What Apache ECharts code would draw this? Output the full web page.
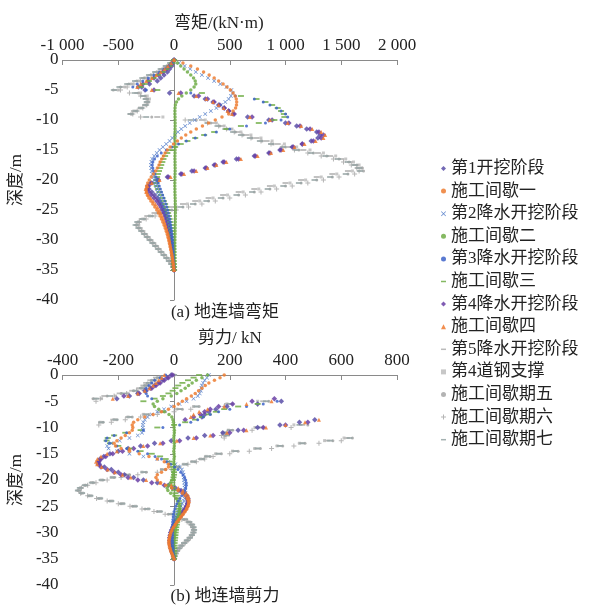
<!DOCTYPE html>
<html>
<head>
<meta charset="utf-8">
<script src="https://cdn.jsdelivr.net/npm/echarts@6/dist/echarts.min.js"></script>
<style>
  html, body { margin: 0; background: #fff; }
  #chart { width: 594px; height: 607px; }
</style>
</head>
<body>
<div id="chart"></div>
<script>
// depth of every sample, m (0.5 m spacing)
const depth = [
  0, -0.5, -1, -1.5, -2, -2.5, -3, -3.5, -4, -4.5,
  -5, -5.5, -6, -6.5, -7, -7.5, -8, -8.5, -9, -9.5,
  -10, -10.5, -11, -11.5, -12, -12.5, -13, -13.5, -14, -14.5,
  -15, -15.5, -16, -16.5, -17, -17.5, -18, -18.5, -19, -19.5,
  -20, -20.5, -21, -21.5, -22, -22.5, -23, -23.5, -24, -24.5,
  -25, -25.5, -26, -26.5, -27, -27.5, -28, -28.5, -29, -29.5,
  -30, -30.5, -31, -31.5, -32, -32.5, -33, -33.5, -34, -34.5, -35
];

const stageNames = [
  '第1开挖阶段', '施工间歇一', '第2降水开挖阶段', '施工间歇二', '第3降水开挖阶段',
  '施工间歇三', '第4降水开挖阶段', '施工间歇四', '第5降水开挖阶段', '第4道钢支撑',
  '施工间歇期五', '施工间歇期六', '施工间歇期七'
];

const momentTicks = [-1000, -500, 0, 500, 1000, 1500, 2000];
const momentTickLabels = ['-1 000', '-500', '0', '500', '1 000', '1 500', '2 000'];
const shearTicks = [-400, -200, 0, 200, 400, 600, 800];
const shearTickLabels = ['-400', '-200', '0', '200', '400', '600', '800'];

// bending moment, kN·m
const m1 = [
  0, -10, -20, -40, -60, -90, -120, -150, -220, -290,
  -260, -40, 180, 280, 350, 400, 450, 490, 530, 660,
  850, 1000, 1100, 1190, 1280, 1310, 1290, 1230, 1150, 1060,
  950, 850, 720, 560, 440, 360, 280, 160, 60, -60,
  -150, -210, -235, -225, -200, -175, -150, -130, -112, -98,
  -86, -76, -68, -60, -53, -47, -42, -37, -33, -29,
  -26, -22, -19, -16, -13, -10, -8, -6, -4, -2, 0
];
const m2 = [
  0, 80, 150, 210, 265, 315, 360, 400, 440, 475,
  505, 530, 548, 558, 562, 560, 552, 530, 490, 430,
  370, 310, 255, 200, 150, 105, 65, 30, -5, -35,
  -60, -80, -95, -110, -125, -135, -150, -165, -185, -205,
  -222, -236, -246, -250, -248, -240, -226, -208, -190, -172,
  -155, -140, -126, -113, -101, -90, -80, -71, -62, -55,
  -48, -42, -36, -30, -24, -19, -14, -10, -6, -3, 0
];
const m3 = [
  0, 45, 95, 145, 195, 250, 305, 360, 415, 470,
  515, 525, 510, 490, 460, 420, 380, 330, 280, 230,
  185, 140, 100, 65, 35, 10, -15, -40, -70, -100,
  -130, -155, -178, -195, -203, -207, -205, -200, -193, -185,
  -177, -168, -160, -152, -144, -136, -128, -118, -108, -98,
  -88, -78, -68, -58, -50, -43, -37, -32, -28, -24,
  -21, -18, -15, -13, -11, -9, -7, -5, -3, -1, 0
];
const m4 = [
  0, 30, 60, 90, 120, 150, 175, 190, 195, 180,
  150, 110, 70, 40, 22, 12, 9, 8, 8, 9,
  9, 10, 10, 9, 9, 8, 8, 9, 10, 10,
  9, 9, 8, 8, 9, 9, 10, 10, 9, 8,
  8, 7, 7, 8, 8, 9, 10, 11, 11, 12,
  12, 12, 12, 11, 11, 10, 10, 9, 9, 8,
  8, 7, 7, 6, 6, 5, 4, 3, 2, 1, 0
];
const m5 = [
  0, -20, -50, -90, -130, -180, -230, -280, -330, -370,
  -250, 150, 550, 720, 800, 860, 920, 960, 1000, 1020,
  960, 820, 650, 500, 380, 280, 190, 110, 40, -20,
  -70, -115, -150, -175, -190, -195, -190, -182, -172, -162,
  -152, -142, -132, -122, -112, -102, -92, -82, -73, -65,
  -57, -50, -44, -38, -33, -29, -25, -22, -19, -16,
  -14, -12, -10, -8, -6, -5, -4, -3, -2, -1, 0
];
const m6 = [
  0, -15, -40, -70, -105, -145, -185, -225, -265, -300,
  -150, 250, 600, 740, 820, 880, 930, 960, 985, 990,
  900, 760, 600, 470, 360, 270, 190, 120, 60, 10,
  -30, -60, -80, -95, -105, -115, -125, -135, -145, -152,
  -158, -160, -155, -145, -132, -118, -104, -92, -80, -70,
  -61, -53, -46, -40, -34, -29, -25, -21, -18, -15,
  -12, -10, -8, -6, -5, -4, -3, -2, -1, 0, 0
];
const m7 = [
  0, -15, -40, -70, -100, -140, -180, -230, -280, -320,
  -180, 60, 220, 300, 360, 410, 450, 490, 540, 700,
  880, 1030, 1130, 1220, 1300, 1340, 1320, 1250, 1150, 1070,
  960, 860, 730, 580, 450, 370, 290, 180, 70, -50,
  -140, -200, -230, -240, -228, -205, -180, -155, -135, -118,
  -103, -90, -80, -70, -62, -55, -49, -43, -38, -33,
  -29, -25, -21, -18, -15, -12, -9, -7, -4, -2, 0
];
const m8 = [
  0, -25, -55, -85, -120, -160, -200, -250, -300, -330,
  -200, 40, 200, 290, 350, 400, 445, 480, 520, 680,
  860, 1020, 1140, 1240, 1320, 1355, 1340, 1270, 1170, 1080,
  980, 870, 750, 600, 470, 380, 300, 200, 90, -30,
  -130, -200, -240, -255, -250, -232, -210, -188, -168, -150,
  -134, -120, -108, -97, -87, -78, -70, -62, -55, -49,
  -43, -38, -33, -28, -23, -19, -15, -11, -7, -3, 0
];
const m9 = [
  0, -30, -70, -110, -160, -210, -270, -330, -400, -470,
  -530, -330, -270, -250, -240, -260, -300, -360, -390, -150,
  250, 360, 430, 500, 570, 650, 740, 830, 930, 1040,
  1160, 1290, 1400, 1500, 1580, 1630, 1650, 1560, 1420, 1280,
  1140, 1000, 860, 720, 580, 440, 310, 190, 80, -20,
  -100, -175, -240, -290, -320, -330, -308, -284, -260, -236,
  -211, -186, -161, -137, -113, -89, -65, -43, -23, -8, 0
];
const m10 = [
  0, -25, -60, -100, -150, -200, -255, -315, -380, -440,
  -500, -300, -240, -220, -230, -260, -310, -360, -380, -100,
  280, 380, 450, 520, 600, 690, 780, 880, 990, 1100,
  1220, 1340, 1450, 1540, 1610, 1660, 1680, 1600, 1460, 1320,
  1180, 1040, 900, 760, 620, 480, 350, 230, 120, 20,
  -70, -150, -220, -280, -320, -335, -312, -288, -263, -238,
  -213, -188, -163, -138, -113, -88, -64, -42, -22, -7, 0
];
const m11 = [
  0, -30, -65, -105, -155, -210, -270, -335, -405, -480,
  -545, -320, -260, -240, -235, -250, -290, -340, -385, -200,
  200, 330, 410, 480, 550, 620, 700, 790, 890, 1000,
  1120, 1250, 1370, 1480, 1570, 1640, 1690, 1700, 1560, 1420,
  1280, 1140, 1000, 860, 720, 580, 440, 310, 190, 80,
  -20, -110, -195, -265, -320, -340, -318, -292, -268, -243,
  -218, -193, -168, -143, -118, -93, -68, -45, -24, -8, 0
];
const m12 = [
  0, -20, -50, -90, -135, -185, -240, -300, -360, -420,
  -480, -400, -300, -250, -235, -245, -280, -330, -370, -300,
  100, 300, 400, 470, 540, 610, 690, 780, 870, 970,
  1080, 1200, 1320, 1430, 1520, 1590, 1640, 1660, 1620, 1480,
  1340, 1200, 1060, 920, 780, 640, 500, 370, 250, 130,
  20, -80, -170, -250, -310, -335, -315, -290, -265, -240,
  -215, -190, -165, -140, -115, -90, -66, -44, -24, -8, 0
];
const m13 = [
  0, -35, -75, -120, -170, -225, -285, -350, -420, -490,
  -540, -350, -280, -255, -245, -255, -295, -345, -390, -250,
  150, 300, 390, 460, 530, 600, 680, 770, 870, 980,
  1100, 1230, 1360, 1470, 1560, 1620, 1660, 1670, 1540, 1400,
  1260, 1120, 980, 840, 700, 560, 420, 290, 170, 60,
  -40, -130, -210, -280, -330, -345, -320, -295, -270, -245,
  -220, -195, -170, -145, -120, -95, -70, -47, -25, -8, 0
];

// shear force, kN
const v1 = [
  -10, -25, -40, -55, -70, -85, -105, -130, -160, -205,
  385, 300, 190, 150, 125, 110, 100, 505, 450, 380,
  300, 230, 175, 110, 50, -10, -70, -120, -165, -200,
  -230, -252, -266, -272, -268, -250, -225, -200, -178, -145,
  -110, -60, -20, 5, 25, 38, 46, 50, 50, 48,
  44, 38, 31, 24, 17, 10, 4, -1, -5, -9,
  -12, -14, -15, -15, -14, -12, -10, -8, -5, -2, 0
];
const v2 = [
  180, 165, 145, 125, 112, 100, 88, 76, 62, 45,
  30, 15, 0, -20, -45, -75, -105, -130, -145, -150,
  -148, -150, -160, -175, -190, -205, -215, -210, -190, -160,
  -125, -90, -60, -35, -20, -20, -30, -45, -60, -65,
  -60, -48, -30, -8, 15, 30, 40, 47, 51, 52,
  50, 46, 40, 33, 26, 18, 11, 4, -2, -7,
  -11, -14, -16, -18, -18, -17, -15, -12, -8, -4, 0
];
const v3 = [
  125, 118, 110, 104, 100, 98, 96, 92, 85, 70,
  45, 20, -10, -36, -60, -80, -95, -105, -110, -112,
  -112, -110, -115, -130, -160, -195, -225, -240, -235, -205,
  -160, -110, -60, -20, 5, 20, 28, 32, 34, 35,
  36, 37, 38, 39, 40, 41, 40, 38, 35, 30,
  25, 20, 15, 10, 6, 3, 0, -2, -4, -6,
  -7, -8, -9, -9, -9, -8, -7, -6, -4, -2, 0
];
const v4 = [
  120, 100, 80, 65, 52, 40, 25, 10, -10, -40,
  -60, -75, -70, -55, -35, -18, -8, -4, -2, -1,
  0, 1, 1, 0, -1, 0, 1, 1, 0, -1,
  0, 1, 0, -1, 0, 1, 0, -2, -3, -4,
  -5, -12, -20, -25, -22, -12, 0, 8, 14, 18,
  20, 20, 19, 17, 15, 13, 11, 9, 7, 6,
  4, 3, 2, 1, 0, 0, -1, -1, -1, 0, 0
];
const v5 = [
  -30, -50, -70, -80, -90, -100, -100, -100, -95, -80,
  370, 320, 260, 200, 160, 130, 105, 85, 60, 20,
  -40, -110, -170, -215, -240, -245, -232, -205, -170, -130,
  -95, -68, -45, -28, -12, 2, 14, 24, 32, 38,
  42, 44, 44, 42, 38, 33, 27, 21, 15, 10,
  6, 3, 0, -2, -3, -4, -5, -5, -5, -5,
  -5, -5, -5, -5, -4, -4, -3, -3, -2, -1, 0
];
const v6 = [
  90, 70, 50, 30, 15, 5, -5, -20, -40, -70,
  -110, 300, 230, 180, 150, 125, 100, 75, 40, 0,
  -60, -120, -175, -215, -238, -242, -230, -200, -160, -120,
  -80, -50, -30, -18, -10, -5, -2, 0, 0, -2,
  -4, -6, -6, -4, 0, 5, 10, 14, 17, 18,
  18, 17, 16, 15, 14, 12, 11, 10, 8, 7,
  6, 5, 4, 3, 2, 2, 1, 1, 0, 0, 0
];
const v7 = [
  -5, -20, -35, -50, -65, -80, -100, -125, -180, 360,
  280, 210, 160, 130, 110, 95, 70, 40, 480, 400,
  320, 250, 200, 140, 80, 20, -40, -95, -145, -185,
  -220, -245, -262, -270, -272, -262, -240, -215, -190, -165,
  -130, -80, -35, -5, 18, 32, 42, 48, 50, 49,
  46, 41, 35, 28, 21, 14, 8, 2, -3, -7,
  -11, -13, -15, -15, -15, -13, -11, -8, -5, -2, 0
];
const v8 = [
  -35, -45, -55, -65, -75, -88, -105, -130, -165, -220,
  350, 260, 180, 120, 90, 70, 60, 520, 470, 400,
  330, 260, 190, 130, 70, 10, -50, -110, -160, -205,
  -240, -262, -275, -280, -276, -260, -238, -212, -185, -155,
  -100, -50, -10, 15, 32, 44, 51, 54, 54, 51,
  47, 42, 36, 29, 22, 15, 8, 2, -4, -9,
  -13, -16, -18, -19, -18, -16, -13, -10, -6, -3, 0
];
const v9 = [
  0, -65, -85, -100, -110, -125, -150, -195, -250, -285,
  320, 190, 75, 15, -45, -105, -165, -218, -262, 460,
  310, 205, 180, 188, 620, 550, 455, 375, 295, 215,
  155, 118, 96, 68, 38, 8, -38, -105, -165, -218,
  -258, -292, -318, -335, -343, -330, -302, -268, -228, -188,
  -144, -100, -55, -15, 18, 39, 54, 64, 69, 71,
  69, 64, 56, 46, 36, 26, 17, 10, 5, 2, 0
];
const v10 = [
  0, -45, -65, -80, -95, -110, -130, -165, -210, -260,
  300, 190, 70, 10, -50, -110, -165, -215, -265, 430,
  290, 195, 175, 180, 610, 540, 450, 370, 290, 210,
  150, 115, 95, 65, 35, 5, -45, -115, -175, -225,
  -262, -296, -320, -336, -342, -328, -298, -262, -222, -182,
  -138, -92, -48, -8, 22, 42, 56, 66, 70, 72,
  69, 63, 55, 45, 35, 25, 16, 9, 4, 1, 0
];
const v11 = [
  0, -60, -80, -95, -105, -120, -145, -190, -240, -290,
  340, 210, 90, 30, -30, -90, -150, -205, -255, 480,
  320, 210, 185, 185, 640, 570, 470, 390, 310, 230,
  170, 130, 105, 75, 45, 15, -30, -100, -160, -215,
  -255, -290, -318, -336, -345, -333, -305, -270, -230, -190,
  -148, -104, -60, -20, 12, 35, 52, 62, 68, 71,
  70, 65, 57, 48, 38, 28, 19, 11, 6, 2, 0
];
const v12 = [
  -10, -50, -70, -85, -100, -115, -135, -170, -215, -265,
  -280, 300, 180, 60, 0, -60, -120, -175, -225, -270,
  420, 280, 190, 170, 180, 600, 520, 430, 350, 270,
  200, 140, 110, 80, 50, 20, -10, -60, -130, -190,
  -240, -280, -310, -332, -342, -335, -310, -278, -240, -200,
  -158, -115, -72, -32, 2, 28, 47, 59, 66, 70,
  70, 66, 59, 50, 40, 30, 21, 13, 7, 3, 0
];
const v13 = [
  0, -55, -75, -90, -100, -115, -140, -180, -230, -280,
  330, 200, 80, 20, -40, -100, -160, -210, -260, 450,
  300, 200, 180, 190, 630, 560, 460, 380, 300, 220,
  160, 120, 100, 70, 40, 10, -40, -110, -170, -220,
  -260, -295, -320, -338, -345, -330, -300, -265, -225, -185,
  -140, -95, -50, -10, 20, 40, 55, 65, 70, 72,
  70, 64, 56, 46, 36, 26, 17, 10, 5, 2, 0
];

const moments = [m1, m2, m3, m4, m5, m6, m7, m8, m9, m10, m11, m12, m13];
const shears = [v1, v2, v3, v4, v5, v6, v7, v8, v9, v10, v11, v12, v13];

const xMark = 'path://M1,0L5,4L9,0L10,1L6,5L10,9L9,10L5,6L1,10L0,9L4,5L0,1Z';
const plusMark = 'path://M4,0H6V4H10V6H6V10H4V6H0V4H4Z';
const dashMark = 'path://M0,0M0,3.5H10V6.5H0ZM10,10';

const looks = [
  {color: '#5B4FA8', symbol: 'diamond', size: 5.5, z: 2},
  {color: '#ED7D31', symbol: 'circle', size: 3.5, z: 5},
  {color: '#4472C4', symbol: xMark, size: 4, z: 4},
  {color: '#70AD47', symbol: 'circle', size: 3.5, z: 4},
  {color: '#3D63C9', symbol: 'circle', size: 3, z: 4},
  {color: '#70AD47', symbol: dashMark, size: 6, z: 3},
  {color: '#6A3FA6', symbol: 'diamond', size: 5.5, z: 2},
  {color: '#F07A30', symbol: 'triangle', size: 4, z: 5},
  {color: '#AFAFAF', symbol: dashMark, size: 6, z: 1},
  {color: '#BDBDBD', symbol: 'rect', size: 3, z: 1},
  {color: '#A6A6A6', symbol: 'circle', size: 3, z: 1},
  {color: '#A8A8A8', symbol: plusMark, size: 5, z: 1},
  {color: '#95A5A5', symbol: dashMark, size: 6, z: 1}
];

const FONT = '"Liberation Serif", "Noto Sans CJK SC", serif';
const axisGray = '#8a8a8a';

function pair(vals) {
  return vals.map((v, i) => [v, depth[i]]);
}

const series = [];
stageNames.forEach((name, k) => {
  const lk = looks[k];
  [moments[k], shears[k]].forEach((vals, g) => {
    series.push({
      name: name,
      type: 'scatter',
      xAxisIndex: g,
      yAxisIndex: g,
      symbol: lk.symbol,
      symbolSize: lk.size,
      z: lk.z,
      itemStyle: {color: lk.color, opacity: 0.85},
      emphasis: {disabled: true},
      data: pair(vals)
    });
  });
});

function xAxisOf(grid, ticks, labels, name, pad) {
  return {
    gridIndex: grid,
    type: 'value',
    position: 'top',
    min: ticks[0],
    max: ticks[ticks.length - 1],
    interval: ticks[1] - ticks[0],
    name: name,
    nameLocation: 'middle',
    nameGap: 28,
    nameTextStyle: {fontFamily: FONT, fontSize: 17, color: '#222', padding: pad},
    axisLine: {show: true, lineStyle: {color: axisGray}},
    axisTick: {show: true, inside: true, length: 5, lineStyle: {color: axisGray}},
    axisLabel: {
      fontFamily: FONT, fontSize: 17, color: '#222', margin: 6,
      formatter: v => labels[ticks.indexOf(v)]
    },
    splitLine: {show: false}
  };
}

function yAxisOf(grid) {
  return {
    gridIndex: grid,
    type: 'value',
    min: -40,
    max: 0,
    interval: 5,
    name: '深度/m',
    nameLocation: 'middle',
    nameGap: 30,
    nameRotate: 90,
    nameTextStyle: {fontFamily: FONT, fontSize: 17, color: '#222'},
    axisLine: {show: true, lineStyle: {color: axisGray}},
    axisTick: {show: true, length: 4, lineStyle: {color: axisGray}},
    axisLabel: {fontFamily: FONT, fontSize: 17, color: '#222', margin: 4},
    splitLine: {show: false}
  };
}

const chart = echarts.init(document.getElementById('chart'));
chart.setOption({
  animation: false,
  backgroundColor: '#fff',
  grid: [
    {left: 61, top: 60, width: 336, height: 240},
    {left: 61, top: 375, width: 336, height: 210}
  ],
  xAxis: [
    xAxisOf(0, momentTicks, momentTickLabels, '弯矩/(kN·m)', [0, 22, 0, 0]),
    xAxisOf(1, shearTicks, shearTickLabels, '剪力/ kN', [0, 0, 0, 0])
  ],
  yAxis: [yAxisOf(0), yAxisOf(1)],
  legend: {
    orient: 'vertical',
    left: 436,
    top: 155,
    itemWidth: 5,
    itemHeight: 5,
    itemGap: 5.6,
    data: stageNames,
    textStyle: {fontFamily: FONT, fontSize: 17, lineHeight: 17, color: '#222'}
  },
  graphic: [
    {type: 'text', x: 225, y: 313, style: {text: '(a) 地连墙弯矩', fill: '#222', font: '17px ' + FONT, align: 'center', verticalAlign: 'middle'}},
    {type: 'text', x: 225, y: 597, style: {text: '(b) 地连墙剪力', fill: '#222', font: '17px ' + FONT, align: 'center', verticalAlign: 'middle'}}
  ],
  series: series
});
</script>
</body>
</html>
